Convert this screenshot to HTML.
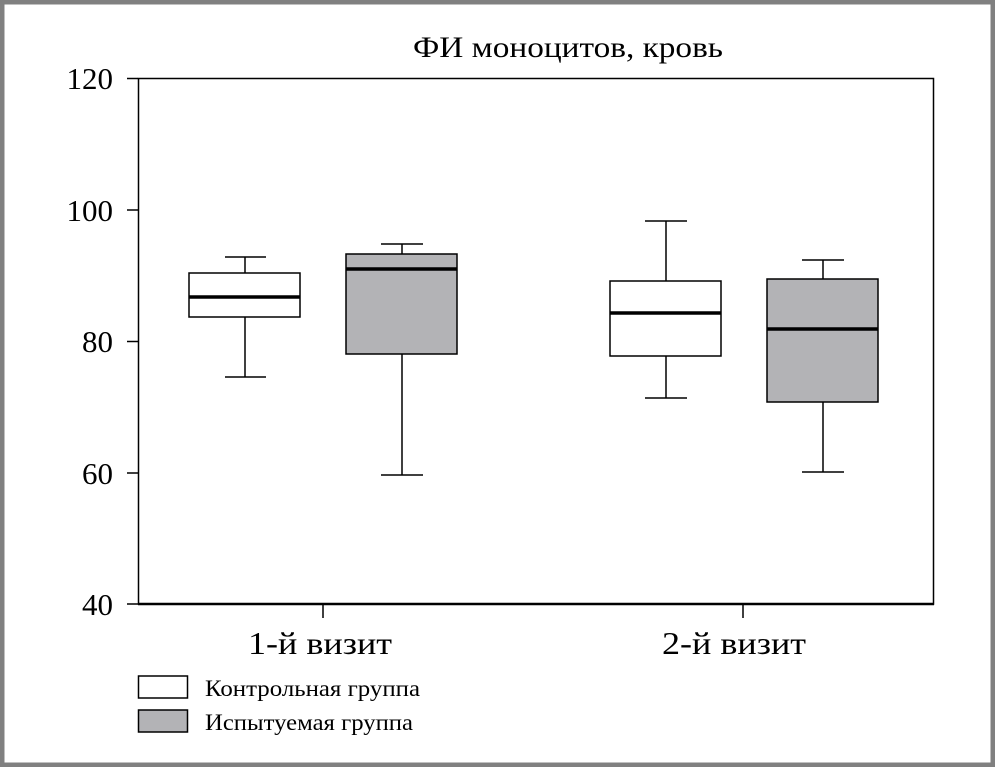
<!DOCTYPE html>
<html><head><meta charset="utf-8"><style>
body{margin:0;background:#fff}
svg{display:block}
text{font-family:"Liberation Serif",serif;fill:#000}
</style></head><body>
<svg width="995" height="767" viewBox="0 0 995 767">
<rect x="2" y="2" width="991" height="763" fill="#fff" stroke="#808080" stroke-width="5"/>
<text x="413" y="57" font-size="30" textLength="310" lengthAdjust="spacingAndGlyphs">ФИ моноцитов, кровь</text>
<rect x="138.5" y="78.5" width="795" height="525.5" fill="none" stroke="#000" stroke-width="1.5"/>
<line x1="138" y1="604" x2="934" y2="604" stroke="#000" stroke-width="2.5"/>
<g stroke="#000" stroke-width="1.5">
<line x1="127" y1="78.5" x2="138" y2="78.5"/><line x1="127" y1="210" x2="138" y2="210"/>
<line x1="127" y1="341.5" x2="138" y2="341.5"/><line x1="127" y1="473" x2="138" y2="473"/>
<line x1="127" y1="604" x2="138" y2="604"/>
<line x1="323" y1="604" x2="323" y2="618"/><line x1="743" y1="604" x2="743" y2="618"/>
</g>
<g font-size="31" text-anchor="end">
<text x="113" y="89">120</text><text x="113" y="221">100</text><text x="113" y="352">80</text>
<text x="113" y="484">60</text><text x="113" y="615">40</text>
</g>
<g font-size="32"><text x="248" y="654" textLength="144" lengthAdjust="spacingAndGlyphs">1-й визит</text><text x="662" y="654" textLength="144" lengthAdjust="spacingAndGlyphs">2-й визит</text></g>
<g stroke="#000" stroke-width="1.5">
<line x1="245" y1="257" x2="245" y2="377"/><line x1="225" y1="257" x2="266" y2="257"/><line x1="225" y1="377" x2="266" y2="377"/>
<rect x="189" y="273" width="111" height="44" fill="#fff"/>
<line x1="189" y1="297" x2="300" y2="297" stroke-width="3.5"/>
<line x1="402" y1="244" x2="402" y2="475"/><line x1="381" y1="244" x2="423" y2="244"/><line x1="381" y1="475" x2="423" y2="475"/>
<rect x="346" y="254" width="111" height="100" fill="#b3b3b6"/>
<line x1="346" y1="269" x2="457" y2="269" stroke-width="3.5"/>
<line x1="666" y1="221" x2="666" y2="398"/><line x1="645" y1="221" x2="687" y2="221"/><line x1="645" y1="398" x2="687" y2="398"/>
<rect x="610" y="281" width="111" height="75" fill="#fff"/>
<line x1="610" y1="313" x2="721" y2="313" stroke-width="3.5"/>
<line x1="823" y1="260" x2="823" y2="472"/><line x1="802" y1="260" x2="844" y2="260"/><line x1="802" y1="472" x2="844" y2="472"/>
<rect x="767" y="279" width="111" height="123" fill="#b3b3b6"/>
<line x1="767" y1="329" x2="878" y2="329" stroke-width="3.5"/>
<rect x="138.5" y="676" width="49" height="22" fill="#fff"/>
<rect x="138.5" y="710" width="49" height="22" fill="#b3b3b6"/>
</g>
<g font-size="23"><text x="205" y="696" textLength="215" lengthAdjust="spacingAndGlyphs">Контрольная группа</text><text x="205" y="730" textLength="208" lengthAdjust="spacingAndGlyphs">Испытуемая группа</text></g>
</svg>
</body></html>
